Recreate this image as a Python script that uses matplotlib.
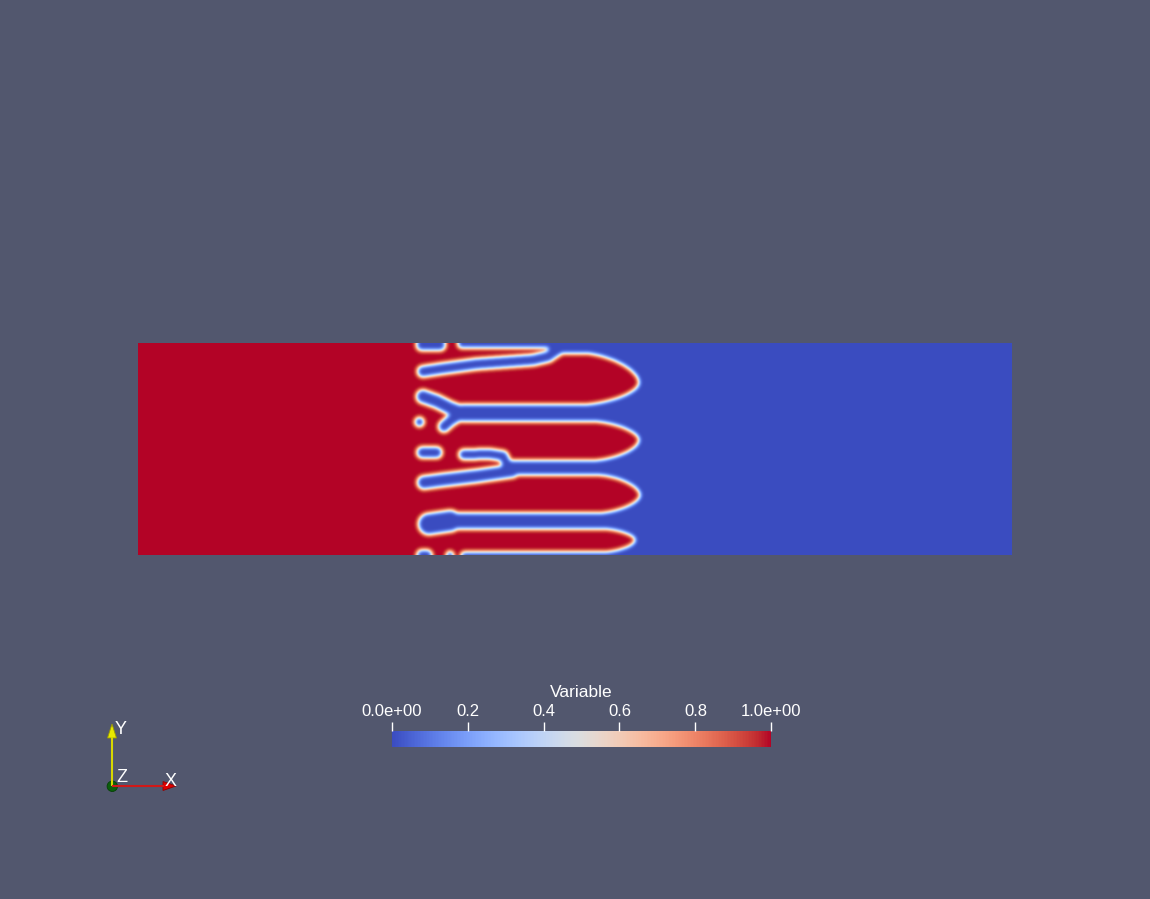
import numpy as np
import matplotlib
matplotlib.use("Agg")
import matplotlib.pyplot as plt
from matplotlib.patches import Polygon, Circle

plt.rcParams["font.family"] = ["Liberation Sans", "DejaVu Sans"]

# ---- data (domain units: x to the right, y upward, 874 x 212) ----
domain_w = 874
domain_h = 212

# everything left of this is the solid red phase
slab_end = 410

# red finger heads reaching into the blue phase
finger_start = 402
finger_tip_x = [501, 501, 502, 497]
finger_top = [201.7, 133.5, 79.8, 26]
finger_bottom = [150.5, 94.6, 42, 3]
finger_tip_y = [172.3, 115, 60, 15]
finger_cap = [54, 44, 40, 30]

# blue channels / droplets inside the red slab (centre line + radius)
chan_b_x = [285, 305, 339, 395, 410, 421]
chan_b_y = [183.5, 186.5, 191, 195, 198.5, 206]
top_blob_x = [284, 302]
top_blob_y = [210, 210]
top_strip_x = [324, 430]
top_strip_y = [211, 211]
chan_c_x = [325, 430]
chan_c_y = [142, 142]
chan_c_up_x = [285, 299, 312, 325]
chan_c_up_y = [158.5, 153.5, 147, 142]
chan_c_low_x = [320, 312, 306]
chan_c_low_y = [139, 134, 128.5]
dot_x = [281.5]
dot_y = [133]
chan_d_x = [370, 430]
chan_d_y = [87.2, 87.2]
chan_d_low_x = [374, 339, 305, 286]
chan_d_low_y = [84, 79, 75, 72.5]
tongue_x = [326, 352, 365, 370]
tongue_y = [100.5, 101, 99, 89]
oval_x = [284.5, 298.5]
oval_y = [102.5, 102.5]
chan_e_x = [312, 430]
chan_e_y = [34, 34]
bulb_e_x = [291, 312]
bulb_e_y = [31, 34]
bot_blob_x = [284, 289]
bot_blob_y = [0, 0]
bot_dot_x = [312]
bot_dot_y = [0]
bot_strip_x = [327, 430]
bot_strip_y = [-1.5, -1.5]

blue_paths = [
    (chan_b_x, chan_b_y, 5.5),
    (top_blob_x, top_blob_y, 5.5),
    (top_strip_x, top_strip_y, 4.0),
    (chan_c_x, chan_c_y, 8.5),
    (chan_c_up_x, chan_c_up_y, 6.5),
    (chan_c_low_x, chan_c_low_y, 5.5),
    (dot_x, dot_y, 4.5),
    (chan_d_x, chan_d_y, 7.4),
    (chan_d_low_x, chan_d_low_y, 6.5),
    (tongue_x, tongue_y, 5.0),
    (oval_x, oval_y, 5.5),
    (chan_e_x, chan_e_y, 8.0),
    (bulb_e_x, bulb_e_y, 10.5),
    (bot_blob_x, bot_blob_y, 5.0),
    (bot_dot_x, bot_dot_y, 3.5),
    (bot_strip_x, bot_strip_y, 4.5),
]

cbar_ticks = [0.0, 0.2, 0.4, 0.6, 0.8, 1.0]
cbar_labels = ["0.0e+00", "0.2", "0.4", "0.6", "0.8", "1.0e+00"]

# ---- build the phase field ----
ss = 2
gx = (np.arange(domain_w * ss) + 0.5) / ss
gy = (np.arange(domain_h * ss) + 0.5) / ss
X, Y = np.meshgrid(gx, gy)


def path_mask(xs, ys, r):
    if len(xs) == 1:
        return np.hypot(X - xs[0], Y - ys[0]) <= r
    d = np.full(X.shape, np.inf)
    for x0, y0, x1, y1 in zip(xs[:-1], ys[:-1], xs[1:], ys[1:]):
        dx, dy = x1 - x0, y1 - y0
        t = np.clip(((X - x0) * dx + (Y - y0) * dy) / (dx * dx + dy * dy), 0, 1)
        d = np.minimum(d, np.hypot(X - (x0 + t * dx), Y - (y0 + t * dy)))
    return d <= r


def finger_mask(tip, top, bot, tip_y, cap):
    # straight body plus a slightly pointed head
    xc = tip - cap
    body = (X >= finger_start) & (X <= xc) & (Y >= bot) & (Y <= top)
    b = np.where(Y >= tip_y, top - tip_y, tip_y - bot)
    u = np.clip((X - xc) / cap, 0, None)
    head = (X > xc) & (u ** 1.5 + np.abs((Y - tip_y) / b) ** 1.8 <= 1)
    return body | head


mask = X < slab_end
for i in range(len(finger_tip_x)):
    mask |= finger_mask(finger_tip_x[i], finger_top[i], finger_bottom[i],
                        finger_tip_y[i], finger_cap[i])
for xs, ys, r in blue_paths:
    mask &= ~path_mask(xs, ys, r)


def blur(a, sigma):
    r = int(4 * sigma) + 1
    k = np.exp(-0.5 * (np.arange(-r, r + 1) / sigma) ** 2)
    k /= k.sum()
    p = np.pad(a, ((0, 0), (r, r)), mode="edge")
    a = sum(k[i] * p[:, i:i + a.shape[1]] for i in range(2 * r + 1))
    p = np.pad(a, ((r, r), (0, 0)), mode="edge")
    a = sum(k[i] * p[i:i + a.shape[0], :] for i in range(2 * r + 1))
    return a


field = blur(mask.astype(float), 2.1 * ss)

# ---- figure ----
bg = "#52576e"
fig = plt.figure(figsize=(11.5, 8.99), dpi=100, facecolor=bg)

ax = fig.add_axes([138 / 1150, (899 - 555) / 899, 874 / 1150, 212 / 899])
im = ax.imshow(field, origin="lower", extent=[0, domain_w, 0, domain_h],
               cmap="coolwarm", vmin=0, vmax=1, aspect="auto",
               interpolation="antialiased")
ax.set_axis_off()

cax = fig.add_axes([391.7 / 1150, (899 - 747) / 899, 379.6 / 1150, 16 / 899])
cb = fig.colorbar(im, cax=cax, orientation="horizontal", ticks=cbar_ticks)
cb.outline.set_visible(False)
cax.xaxis.set_ticks_position("top")
cb.set_ticklabels(cbar_labels)
cax.tick_params(axis="x", colors="white", length=6.5, width=1.0, pad=2.5,
                labelsize=12)

# overlay in screen pixels for the legend title and axes triad
ov = fig.add_axes([0, 0, 1, 1], facecolor="none")
ov.set_xlim(0, 1150)
ov.set_ylim(899, 0)
ov.set_axis_off()

ov.text(581, 697, "Variable", color="white", fontsize=12.5,
        ha="center", va="baseline")

ov.plot([112, 112], [786, 737], color="#d8d800", lw=1.5, solid_capstyle="butt")
ov.add_patch(Polygon([(107.5, 738), (116.5, 738), (112, 724)],
                     closed=True, facecolor="#e8e800", edgecolor="#9a9a00", lw=0.6))
ov.plot([112, 164], [786, 786], color="#d01818", lw=1.5, solid_capstyle="butt")
ov.add_patch(Polygon([(163, 781.5), (163, 790.5), (176, 786)],
                     closed=True, facecolor="#e00000", edgecolor="#900000", lw=0.6))
ov.add_patch(Circle((112.3, 786.3), 5.2, facecolor="#0b5e0b", edgecolor="#064006", lw=0.6))

ov.text(121, 730, "Y", color="white", fontsize=13, ha="center", va="center")
ov.text(171, 781, "X", color="white", fontsize=13, ha="center", va="center")
ov.text(121.5, 778, "Z", color="white", fontsize=13, ha="center", va="center")

fig.savefig("out.png", dpi=100, facecolor=bg)
plt.close(fig)
